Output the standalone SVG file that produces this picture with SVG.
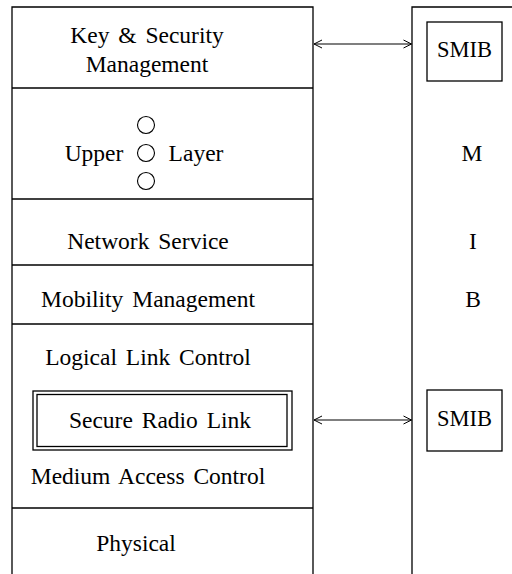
<svg xmlns="http://www.w3.org/2000/svg" width="512" height="574" viewBox="0 0 512 574">
  <style>
    .ln { fill: none; stroke: #000; stroke-width: 1.3; }
    .bx { fill: #fff; stroke: #000; stroke-width: 1.3; }
    .tx { font-family: "Liberation Serif", "Times New Roman", serif; font-size: 23.5px; fill: #000; text-anchor: middle; word-spacing: 3px; }
    .sm { font-size: 22.5px; }
    .cr { fill: none; stroke: #000; stroke-width: 1.1; }
    .ar { fill: none; stroke: #000; stroke-width: 1.1; }
  </style>
  <defs>
    <marker id="head" viewBox="0 0 10 10" refX="9" refY="5" markerWidth="10" markerHeight="10" markerUnits="userSpaceOnUse" orient="auto-start-reverse">
      <path d="M1,1 L9,5 L1,9" fill="none" stroke="#000" stroke-width="1"/>
    </marker>
  </defs>

  <!-- protocol stack -->
  <g id="stack">
    <path class="ln" d="M12,574 V7 H313 V574"/>
  </g>

  <g id="key-security">
    <text class="tx" x="147" y="43">Key &amp; Security</text>
    <text class="tx" x="147" y="72">Management</text>
    <line class="ln" x1="12" y1="88" x2="313" y2="88"/>
  </g>

  <g id="upper-layer">
    <circle class="cr" cx="146" cy="125" r="8.5"/>
    <circle class="cr" cx="146" cy="153" r="8.5"/>
    <circle class="cr" cx="146" cy="181" r="8.5"/>
    <text class="tx" x="94" y="161">Upper</text>
    <text class="tx" x="196" y="161">Layer</text>
    <line class="ln" x1="12" y1="199" x2="313" y2="199"/>
  </g>

  <g id="network-service">
    <text class="tx" x="148" y="249">Network Service</text>
    <line class="ln" x1="12" y1="265" x2="313" y2="265"/>
  </g>

  <g id="mobility-management">
    <text class="tx" x="148" y="307">Mobility Management</text>
    <line class="ln" x1="12" y1="324" x2="313" y2="324"/>
  </g>

  <g id="link-mac">
    <text class="tx" x="148" y="365">Logical Link Control</text>
    <text class="tx" x="148" y="484">Medium Access Control</text>
    <line class="ln" x1="12" y1="508" x2="313" y2="508"/>
  </g>

  <g id="secure-radio-link">
    <rect class="bx" x="33" y="391" width="259" height="59"/>
    <rect class="ln" x="37" y="394.5" width="250" height="52"/>
    <text class="tx" x="160" y="428">Secure Radio Link</text>
  </g>

  <g id="physical">
    <text class="tx" x="136" y="551">Physical</text>
  </g>

  <!-- management information base column -->
  <g id="mib">
    <path class="ln" d="M412,574 V7 H512"/>
    <text class="tx" x="472" y="161">M</text>
    <text class="tx" x="473" y="249">I</text>
    <text class="tx" x="473" y="307">B</text>
  </g>

  <g id="smib-top">
    <rect class="bx" x="427" y="22" width="75" height="59"/>
    <text class="tx sm" x="464.5" y="57">SMIB</text>
  </g>

  <g id="smib-bottom">
    <rect class="bx" x="427" y="390" width="75" height="61"/>
    <text class="tx sm" x="464.5" y="426">SMIB</text>
  </g>

  <!-- connectors -->
  <g id="connectors">
    <line class="ar" x1="314" y1="44" x2="411.5" y2="44" marker-start="url(#head)" marker-end="url(#head)"/>
    <line class="ar" x1="314" y1="420" x2="411.5" y2="420" marker-start="url(#head)" marker-end="url(#head)"/>
  </g>
</svg>
